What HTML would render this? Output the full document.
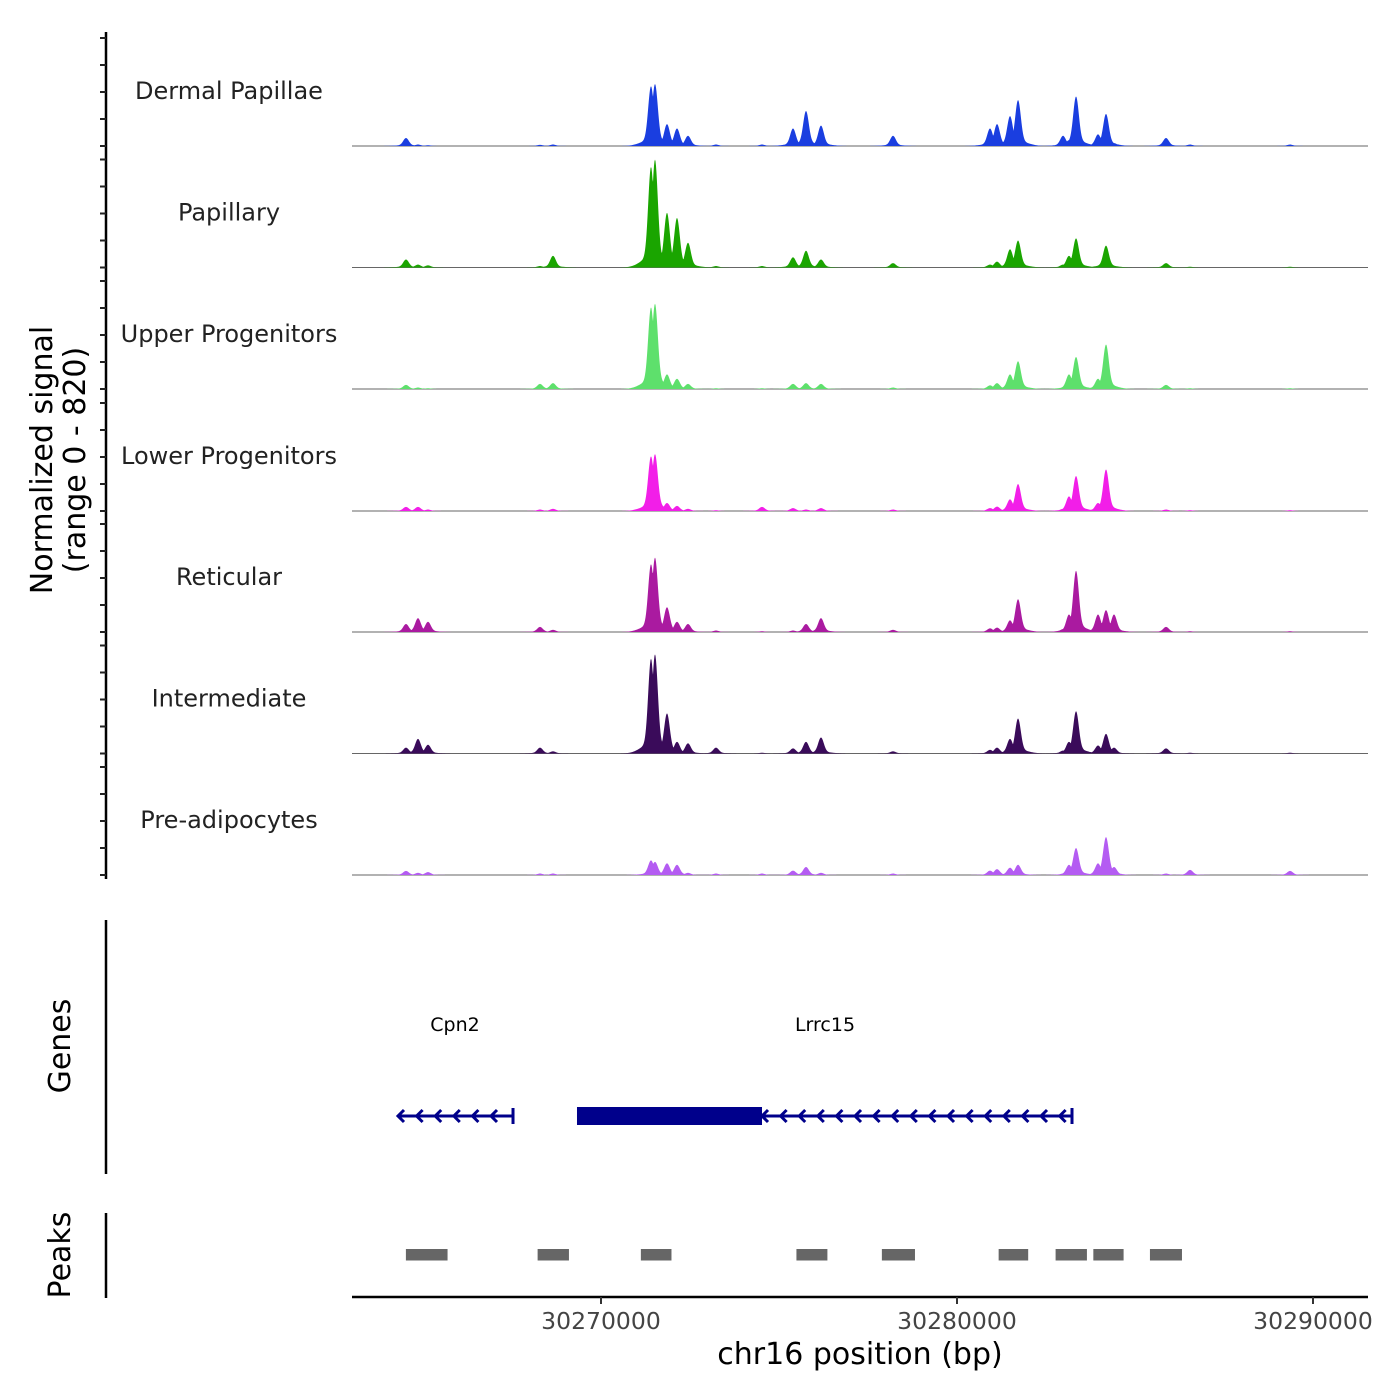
<!DOCTYPE html>
<html><head><meta charset="utf-8"><style>
html,body{margin:0;padding:0;background:#fff}
svg{display:block;font-family:"DejaVu Sans","Liberation Sans",sans-serif}
</style></head><body>
<svg id="chart" width="1400" height="1400" viewBox="0 0 1400 1400"></svg>
<script>
// ---- data ----
const trackNames = ["Dermal Papillae","Papillary","Upper Progenitors","Lower Progenitors","Reticular","Intermediate","Pre-adipocytes"];
const trackColors = ["#1a3ee0","#1aa500","#5ee06c","#f21ee8","#aa1aa0","#3a0b5a","#b45cf2"];
const peakPos = [30264523,30264860,30265141,30268287,30268652,30271405,30271517,30271854,30272135,30272444,30273231,30274523,30275394,30275759,30276180,30278203,30280928,30281125,30281490,30281715,30282979,30283147,30283344,30283962,30284186,30284411,30285872,30286546,30289355];
const sigDermal =  [55,10,5,8,10,410,425,150,120,70,10,10,120,240,140,70,120,150,205,315,70,40,340,80,220,20,55,10,10];
const sigPapill =  [55,20,15,10,80,690,740,375,340,170,10,10,70,115,55,30,20,40,125,185,20,80,200,10,150,10,30,5,5];
const sigUpper =   [28,10,5,35,40,560,585,100,70,35,5,5,35,40,35,10,25,40,100,190,10,100,220,70,305,10,28,5,5];
const sigLower =   [28,28,10,10,15,375,390,55,35,15,5,28,20,10,20,10,20,30,80,185,15,100,240,55,285,20,10,5,5];
const sigRetic =   [55,95,70,35,15,465,510,170,70,55,10,5,10,55,95,15,25,30,80,225,20,120,420,120,150,120,35,5,5];
const sigInterm =  [40,100,60,40,15,650,680,275,80,70,40,5,35,80,110,15,25,40,100,240,20,80,290,55,135,40,35,5,5];
const sigPreadip = [28,15,20,10,10,100,90,80,70,15,10,10,30,55,15,10,30,40,50,70,10,70,185,80,260,55,10,35,28];
const trackValues = [sigDermal,sigPapill,sigUpper,sigLower,sigRetic,sigInterm,sigPreadip];
const xTicks = [30270000,30280000,30290000];
const peakStarts = [30264520,30268220,30271120,30275490,30277890,30281170,30282770,30283830,30285420];
const peakEndsArr = [30265690,30269100,30271980,30276360,30278820,30282000,30283650,30284680,30286320];
const geneNames = ["Cpn2","Lrrc15"];
const geneStarts = [30264298,30269326];
const geneEnds = [30267529,30283231];
const cdsStart = [null,30269326];
const cdsEnd = [null,30274523];

const NS="http://www.w3.org/2000/svg";
const svg=document.getElementById('chart');
function mk(tag,attrs,parent){const e=document.createElementNS(NS,tag);for(const k in attrs)e.setAttribute(k,attrs[k]);(parent||svg).appendChild(e);return e;}
const X0=30263006, PXKB=35.6;
const xs=bp=>352+(bp-X0)/1000*PXKB;
const baselines=[146,267.5,389,511,632,753.5,875];
const ys=(v,b)=>b-v*110/820*0.97;

let ax=mk('line',{x1:106,y1:32,x2:106,y2:879,stroke:'#000','stroke-width':2.5});


baselines.forEach((b,ti)=>{
  for(let k=0;k<5;k++){const y=b-k*27;
    let t=mk('line',{x1:100,y1:y,x2:106,y2:y,stroke:'#222','stroke-width':2});
    
    }
  let bl=mk('line',{x1:352,y1:b,x2:1368,y2:b,stroke:'#666','stroke-width':1});
  
  
  const vals=trackValues[ti];let pts=[];
  for(let px=352;px<=1368;px+=0.5){
    let bp=X0+(px-352)/PXKB*1000, s=0;
    peakPos.forEach((p,i)=>{const d=Math.abs(bp-p);
      const main=vals[i]*Math.exp(-Math.pow(d/110,2));
      const shoulder=vals[i]*0.12*Math.exp(-Math.pow(d/380,2));
      s=Math.max(s,main+shoulder);});
    pts.push(px+','+ys(s,b).toFixed(2));
  }
  let path=mk('path',{d:'M352,'+b+' L'+pts.join(' L')+' L1368,'+b+' Z',fill:trackColors[ti]});
  
  
  let tl=mk('text',{x:229,y:b-47,'text-anchor':'middle','font-size':24,fill:'#222'});tl.textContent=trackNames[ti];
  
  
});
let yt=mk('text',{transform:'translate(52,460) rotate(-90)','text-anchor':'middle','font-size':30,fill:'#000'});


let ts1=mk('tspan',{x:0,dy:0},yt);ts1.textContent='Normalized signal';
let ts2=mk('tspan',{x:0,dy:33},yt);ts2.textContent='(range 0 - 820)';

let gl=mk('line',{x1:106,y1:920,x2:106,y2:1174,stroke:'#000','stroke-width':2.5});


let gt=mk('text',{transform:'translate(70,1046) rotate(-90)','text-anchor':'middle','font-size':30});gt.textContent='Genes';


geneNames.forEach((g,i)=>{
  const a=xs(geneStarts[i]),b2=xs(geneEnds[i]),y=1116;
  let gg=mk('g',{});
  
  
  mk('line',{x1:a,y1:y,x2:b2,y2:y,stroke:'#00008b','stroke-width':3},gg);
  mk('line',{x1:b2,y1:y-8,x2:b2,y2:y+8,stroke:'#00008b','stroke-width':3},gg);
  let cs=cdsStart[i]!==null?xs(cdsEnd[i]):a;
  for(let x=cs;x<b2-5;x+=18.6){mk('path',{d:`M${x+6},${y-6} L${x},${y} L${x+6},${y+6}`,stroke:'#00008b','stroke-width':3,fill:'none'},gg);}
  if(cdsStart[i]!==null){mk('rect',{x:xs(cdsStart[i]),y:1107,width:xs(cdsEnd[i])-xs(cdsStart[i]),height:18,fill:'#00008b'},gg);}
  let lab=mk('text',{x:(i==0?455:825),y:1031,'text-anchor':'middle','font-size':19,fill:'#000'});lab.textContent=g;
  
  
});

let pl=mk('line',{x1:106,y1:1213,x2:106,y2:1298,stroke:'#000','stroke-width':2.5});


let pt=mk('text',{transform:'translate(70,1255) rotate(-90)','text-anchor':'middle','font-size':30});pt.textContent='Peaks';


peakStarts.forEach((s,i)=>{
  let r=mk('rect',{x:xs(s),y:1249,width:xs(peakEndsArr[i])-xs(s),height:11.5,fill:'#666'});
  
  
});

let xa=mk('line',{x1:352,y1:1297,x2:1368,y2:1297,stroke:'#000','stroke-width':2.5});


xTicks.forEach(v=>{
  let t=mk('line',{x1:xs(v),y1:1297,x2:xs(v),y2:1304,stroke:'#333','stroke-width':2});
  
  
  let l=mk('text',{x:xs(v),y:1329,'text-anchor':'middle','font-size':23.5,fill:'#444'});l.textContent=v;
  
  
});
let xt=mk('text',{x:860,y:1364,'text-anchor':'middle','font-size':30,fill:'#000'});xt.textContent='chr16 position (bp)';


</script>
</body></html>
